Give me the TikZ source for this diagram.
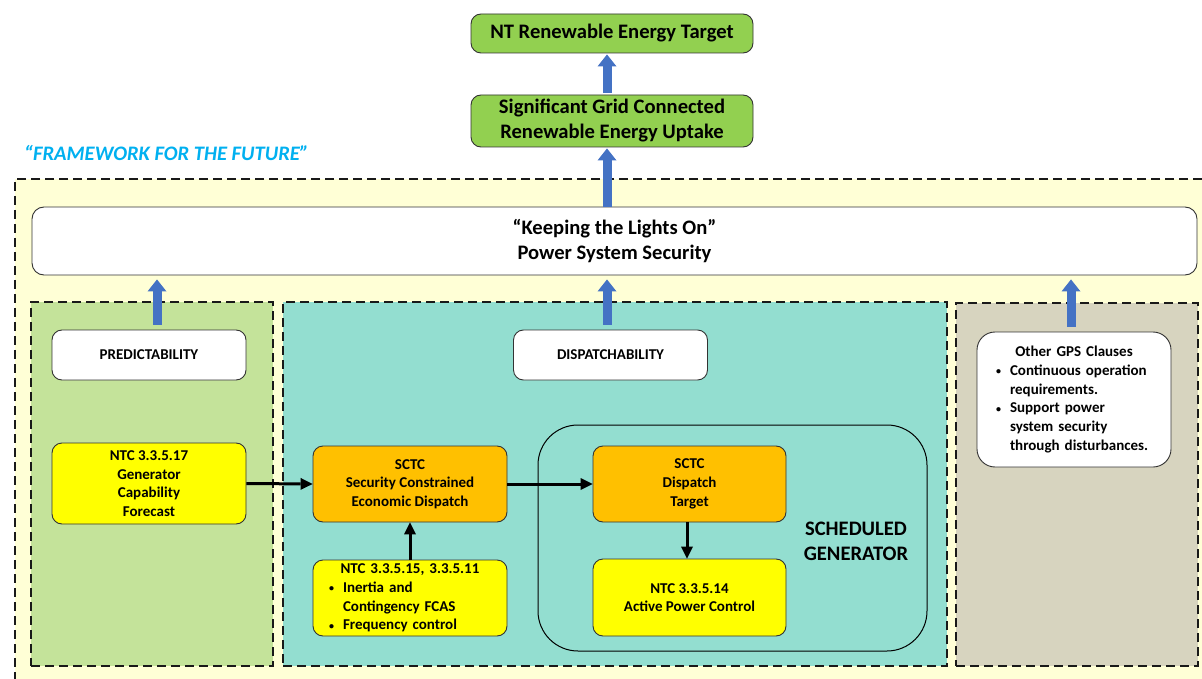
\documentclass[tikz,border=0pt]{standalone}
\usepackage{fontspec}
\setmainfont{Carlito}
\usetikzlibrary{arrows.meta,calc}
\definecolor{frameyellow}{HTML}{FFFFD6}
\definecolor{predgreen}{HTML}{C4E39A}
\definecolor{dispteal}{HTML}{93DED0}
\definecolor{gpsgrey}{HTML}{D7D4BF}
\definecolor{boxgreen}{HTML}{92D050}
\definecolor{boxorange}{HTML}{FFC000}
\definecolor{boxyellow}{HTML}{FFFF00}
\definecolor{arrblue}{HTML}{4472C4}
\definecolor{fwblue}{HTML}{00B0F0}
\newcommand{\bul}{\makebox[14pt][l]{\raisebox{0.5pt}{\fontsize{10}{10}\selectfont •}}}
\begin{document}
\begin{tikzpicture}[x=1pt,y=-1pt,
  bigfont/.style={font=\bfseries\fontsize{20.6}{25}\selectfont},
  smallfont/.style={font=\bfseries\fontsize{15}{18.7}\selectfont},
  basebox/.style={draw=black!80, line width=0.9pt, rounded corners=10pt, inner sep=0pt, align=center},
  greenbox/.style={basebox, fill=boxgreen, bigfont, minimum width=282},
  whitebox/.style={basebox, fill=white, smallfont, minimum width=194, minimum height=50},
  orangebox/.style={basebox, fill=boxorange, smallfont, minimum width=194, minimum height=76},
  yellowbox/.style={basebox, fill=boxyellow, smallfont, minimum width=194, minimum height=76},
  region/.style={draw=black!90, line width=1.8pt, dash pattern=on 9pt off 5pt, inner sep=0pt},
  bluearr/.style={draw=arrblue, line width=9pt, -{Triangle[width=19pt,length=12pt,line width=0pt]}},
  blackarr/.style={draw=black, line width=3pt, -{Triangle[width=12pt,length=12pt,line width=0pt]}}
]
\clip (0,0) rectangle (1202,679);
\fill[white] (0,0) rectangle (1202,679);
% outer framework
\node[region, fill=frameyellow, minimum width=1201, minimum height=521] (frame) at (615.5,439.5) {};
% top boxes
\node[greenbox, minimum height=39] (nt) at (612,33.5) {NT Renewable Energy Target};
\node[greenbox, minimum height=52] (sig) at (612,121) {Significant Grid Connected\\Renewable Energy Uptake};
\node[anchor=west, inner sep=0pt, text=fwblue, font=\bfseries\itshape\fontsize{20.6}{25}\selectfont] (fw) at (24,153) {“FRAMEWORK FOR THE FUTURE”};
\node[basebox, fill=white, bigfont, rounded corners=12pt, minimum width=1165, minimum height=68] (bar) at (614.5,241) {“Keeping the Lights On”\\Power System Security};
% regions
\node[region, fill=predgreen, minimum width=242, minimum height=364] (predreg) at (152,484) {};
\node[region, fill=dispteal, minimum width=664, minimum height=364] (dispreg) at (615,484) {};
\node[region, fill=gpsgrey, minimum width=242, minimum height=363] (gpsreg) at (1077,484.5) {};
% scheduled generator container
\node[draw=black, line width=1pt, rounded corners=40pt, minimum width=389, minimum height=226, inner sep=0pt] (sched) at (732.5,538) {};
\node[bigfont, align=center, inner sep=0pt] (schedtxt) at (856,541) {SCHEDULED\\GENERATOR};
% white headers
\node[whitebox] (predbox) at (149,355) {PREDICTABILITY};
\node[whitebox] (dispbox) at (610.5,355) {DISPATCHABILITY};
\node[basebox, fill=white, smallfont, minimum width=194, minimum height=135, rounded corners=18pt, text width=156, align=left] (gpsbox) at (1074,399.5)
  {\makebox[156pt][c]{Other GPS Clauses}\\
   \bul Continuous operation\\
   \hspace*{14pt}requirements.\\
   \bul Support power\\
   \hspace*{14pt}system security\\
   \hspace*{14pt}through disturbances.};
% content boxes
\node[yellowbox, minimum height=81] (ntc17) at (149,483.5) {NTC 3.3.5.17\\Generator\\Capability\\Forecast};
\node[orangebox] (sced) at (410,484) {SCTC\\Security Constrained\\Economic Dispatch};
\node[yellowbox, text width=162, align=left] (ntc15) at (410,598)
  {\makebox[162pt][c]{NTC 3.3.5.15, 3.3.5.11}\\
   \bul Inertia and\\
   \hspace*{14pt}Contingency FCAS\\
   \bul Frequency control};
\node[orangebox, minimum width=193] (sdt) at (689.5,484) {SCTC\\Dispatch\\Target};
\node[yellowbox, minimum width=193, minimum height=77] (ntc14) at (689.5,597.5) {NTC 3.3.5.14\\Active Power Control};
% blue arrows
\path ([xshift=-5pt]sig.north) coordinate (a1);
\draw[bluearr, shorten <=2pt, shorten >=1pt] (a1) -- (a1 |- nt.south);
\path ([xshift=-7.5pt]bar.north) coordinate (a2);
\draw[bluearr, shorten >=1pt] (a2) -- (a2 |- sig.south);
\path ([xshift=8pt]predbox.north) coordinate (a3);
\draw[bluearr, shorten <=5pt, shorten >=4pt] (a3) -- (a3 |- bar.south);
\path ([xshift=-3.5pt]dispbox.north) coordinate (a4);
\draw[bluearr, shorten <=5pt, shorten >=4pt] (a4) -- (a4 |- bar.south);
\path ([xshift=-3pt]gpsbox.north) coordinate (a5);
\draw[bluearr, shorten <=5pt, shorten >=4pt] (a5) -- (a5 |- bar.south);
% black arrows
\draw[blackarr] (ntc17.east) -- (sced.west);
\draw[blackarr] (sced.east) -- (sdt.west);
\path ([xshift=-2.5pt]sdt.south) coordinate (b1);
\draw[blackarr] (b1) -- (b1 |- ntc14.north);
\draw[blackarr] (ntc15.north) -- (sced.south);
\end{tikzpicture}
\end{document}
